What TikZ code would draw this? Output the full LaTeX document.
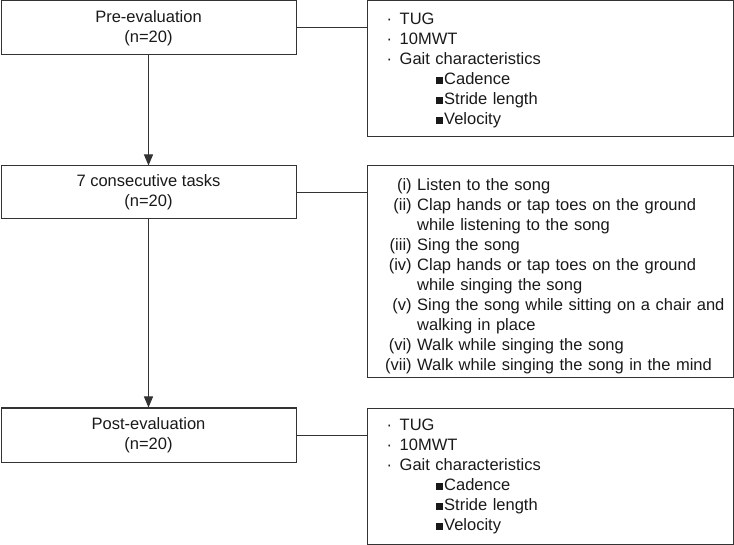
\documentclass[tikz,border=0pt]{standalone}
\usepackage{fontspec}
\setmainfont{Liberation Sans}
\usetikzlibrary{arrows.meta}
\newcommand{\bul}{\makebox[13pt][l]{·}}
\newcommand{\sq}{\hspace*{49pt}\rule[0.5pt]{7pt}{7pt}\hspace{1.5pt}}
\newcommand{\lab}[1]{\makebox[30pt][r]{#1}\ }
\begin{document}
\begin{tikzpicture}[x=1pt,y=-1pt,
  every node/.style={font=\fontsize{16.5}{20}\selectfont, text=black!90},
  lbox/.style={draw=black!80, line width=1pt, minimum width=295pt, align=center, inner sep=0pt},
  rbox/.style={draw=black!80, line width=1pt, minimum width=366pt, inner sep=0pt},
  list/.style={anchor=west, align=left, text width=345pt, inner sep=0pt},
  conn/.style={draw=black!80, line width=1pt},
  arr/.style={conn, -{Triangle[width=9pt,length=11pt]}}]
\useasboundingbox (0,0) rectangle (734,545);
% left boxes
\node[lbox, minimum height=54pt] (pre) at (148.5,28) {Pre-evaluation\\(n=20)};
\node[lbox, minimum height=53pt] (task) at (148.5,192.5) {7 consecutive tasks\\(n=20)};
\node[lbox, minimum height=54pt] (post) at (148.5,435) {Post-evaluation\\(n=20)};
% right boxes
\node[rbox, minimum height=136pt] (r1) at (550,69) {};
\node[rbox, minimum height=212pt] (r2) at (550,272) {};
\node[rbox, minimum height=136pt] (r3) at (550,476) {};
% texts
\node[list] (t1) at ([xshift=20pt,yshift=-1pt]r1.west) {\bul TUG\\\bul 10MWT\\\bul Gait characteristics\\\sq Cadence\\\sq Stride length\\\sq Velocity};
\node[list] (t2) at ([xshift=15pt,yshift=-4pt]r2.west) {\lab{(i)}Listen to the song\\
\lab{(ii)}Clap hands or tap toes on the ground\\
\lab{}while listening to the song\\
\lab{(iii)}Sing the song\\
\lab{(iv)}Clap hands or tap toes on the ground\\
\lab{}while singing the song\\
\lab{(v)}Sing the song while sitting on a chair and\\
\lab{}walking in place\\
\lab{(vi)}Walk while singing the song\\
\lab{(vii)}Walk while singing the song in the mind};
\node[list] (t3) at ([xshift=20pt]r3.west) {\bul TUG\\\bul 10MWT\\\bul Gait characteristics\\\sq Cadence\\\sq Stride length\\\sq Velocity};
% connectors
\draw[conn] (pre.east) -- (pre.east -| r1.west);
\draw[conn] (task.east) -- (task.east -| r2.west);
\draw[conn] (post.east) -- (post.east -| r3.west);
\draw[arr] (pre.south) -- (task.north);
\draw[arr] (task.south) -- (post.north);
\end{tikzpicture}
\end{document}
